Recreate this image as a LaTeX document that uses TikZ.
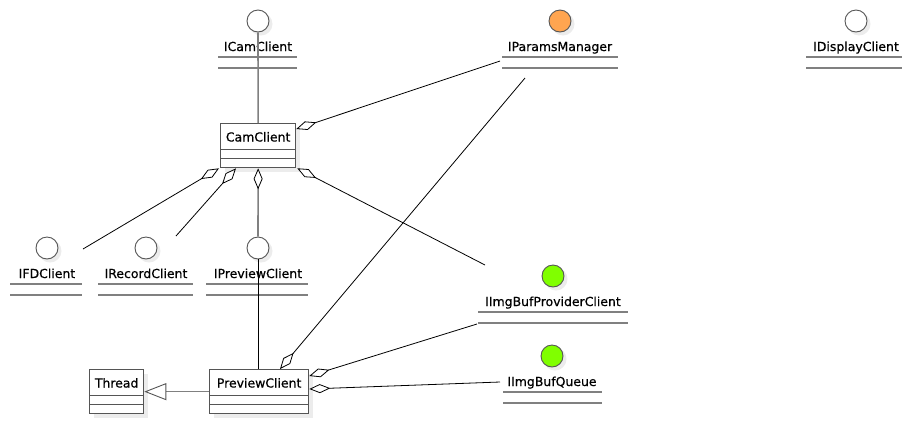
\documentclass[tikz,border=0pt]{standalone}
\usepackage{fontspec}
\setmainfont{DejaVu Sans}[FakeBold=0.6]
\usetikzlibrary{arrows.meta}
\definecolor{lineGray}{RGB}{128,128,128}
\definecolor{boxEdge}{RGB}{85,85,85}
\definecolor{shadowGray}{RGB}{236,236,236}
\definecolor{paramsOrange}{RGB}{255,165,80}
\definecolor{bufGreen}{RGB}{128,255,0}

% interface: name, centre x, centre y, label, left x, right x, fill
\newcommand\IfaceDraw[7]{%
  \fill[shadowGray] (#2+3,#3+3) circle (11.5);
  \node[lollipop, fill=#7] (#1) at (#2,#3) {};
  \node[anchor=base] (#1-name) at (#2,#3+30) {#4};
  \draw[ifline] (#5,#3+36) -- (#6,#3+36);
  \draw[ifline] (#5,#3+47) -- (#6,#3+47);
}
% class: name, left x, top y, width, label
\newcommand\ClassDraw[5]{%
  \fill[shadowGray] (#2+5,#3+5) rectangle (#2+#4+5,#3+49);
  \node[clsbox, minimum width=#4 bp, anchor=north west] (#1) at (#2,#3) {};
  \draw[boxEdge, line width=1bp] ([yshift=-26bp]#1.north west) -- ([yshift=-26bp]#1.north east);
  \draw[boxEdge, line width=1bp] ([yshift=-35bp]#1.north west) -- ([yshift=-35bp]#1.north east);
  \node[anchor=base] (#1-name) at ([yshift=-18.5bp]#1.north) {#5};
}

\begin{document}
\begin{tikzpicture}[x=1bp,y=-1bp,
  every node/.style={font=\fontsize{12.5}{14}\selectfont, inner sep=0pt},
  lollipop/.style={circle, draw=boxEdge, line width=0.9bp, minimum size=22bp},
  clsbox/.style={rectangle, draw=boxEdge, fill=white, line width=1.3bp, minimum height=44bp},
  ifline/.style={draw=lineGray, line width=2bp},
  agg/.style={draw=black, line width=0.8bp, -{Diamond[open, length=21bp, width=9bp]}},
  aggGray/.style={draw=lineGray, line width=1.6bp, -{Diamond[open, length=21bp, width=9bp, color=black, line width=0.8bp]}},
  realize/.style={draw=lineGray, line width=1.6bp},
  plain/.style={draw=black, line width=0.8bp},
  inherit/.style={draw=lineGray, line width=1.6bp, -{Triangle[open, length=22bp, width=17bp, color=boxEdge, line width=0.9bp]}}]
\useasboundingbox (0,0) rectangle (912,424);

% interfaces
\IfaceDraw{icam}{258}{21}{ICamClient}{218}{297}{white}
\IfaceDraw{ipm}{560}{21}{IParamsManager}{502}{618}{paramsOrange}
\IfaceDraw{idisp}{856}{21}{IDisplayClient}{806}{902}{white}
\IfaceDraw{ifd}{47}{248}{IFDClient}{10}{82}{white}
\IfaceDraw{irec}{146}{248}{IRecordClient}{98}{193}{white}
\IfaceDraw{iprev}{258}{248}{IPreviewClient}{206}{308}{white}
\IfaceDraw{iprov}{553}{276}{IImgBufProviderClient}{478}{628}{bufGreen}
\IfaceDraw{iqueue}{552}{356}{IImgBufQueue}{503}{602}{bufGreen}

% classes
\ClassDraw{cc}{220}{123}{75}{CamClient}
\ClassDraw{pc}{209}{369}{99}{PreviewClient}
\ClassDraw{th}{89}{369}{54}{Thread}

% free ends of the aggregation lines
\coordinate (ipm-a) at (500,61);
\coordinate (ipm-b) at (525,78);
\coordinate (ifd-a) at (83,249);
\coordinate (irec-a) at (176,236);
\coordinate (iprov-a) at (485,265);
\coordinate (iprov-b) at (477,324);
\coordinate (iqueue-a) at (500,382);

% CamClient relations
\draw[realize] (icam.south) -- (cc.north);
\draw[agg] (ipm-a) -- ([yshift=-6bp]cc.north east);
\draw[agg] (ifd-a) -- ([xshift=-1bp]cc.south west);
\draw[agg] (irec-a) -- ([xshift=16bp]cc.south west);
\draw[aggGray] (iprev.north) -- (cc.south);
\draw[agg] (iprov-a) -- ([xshift=1bp]cc.south east);

% PreviewClient relations
\draw[plain] (iprev.south) -- (iprev.south |- pc.north);
\draw[agg] (ipm-b) -- ([xshift=71bp]pc.north west);
\draw[agg] (iprov-b) -- ([yshift=-7bp]pc.north east);
\draw[agg] (iqueue-a) -- ([yshift=-20bp]pc.north east);
\draw[inherit] (pc.west) -- (th.east);
\end{tikzpicture}
\end{document}
